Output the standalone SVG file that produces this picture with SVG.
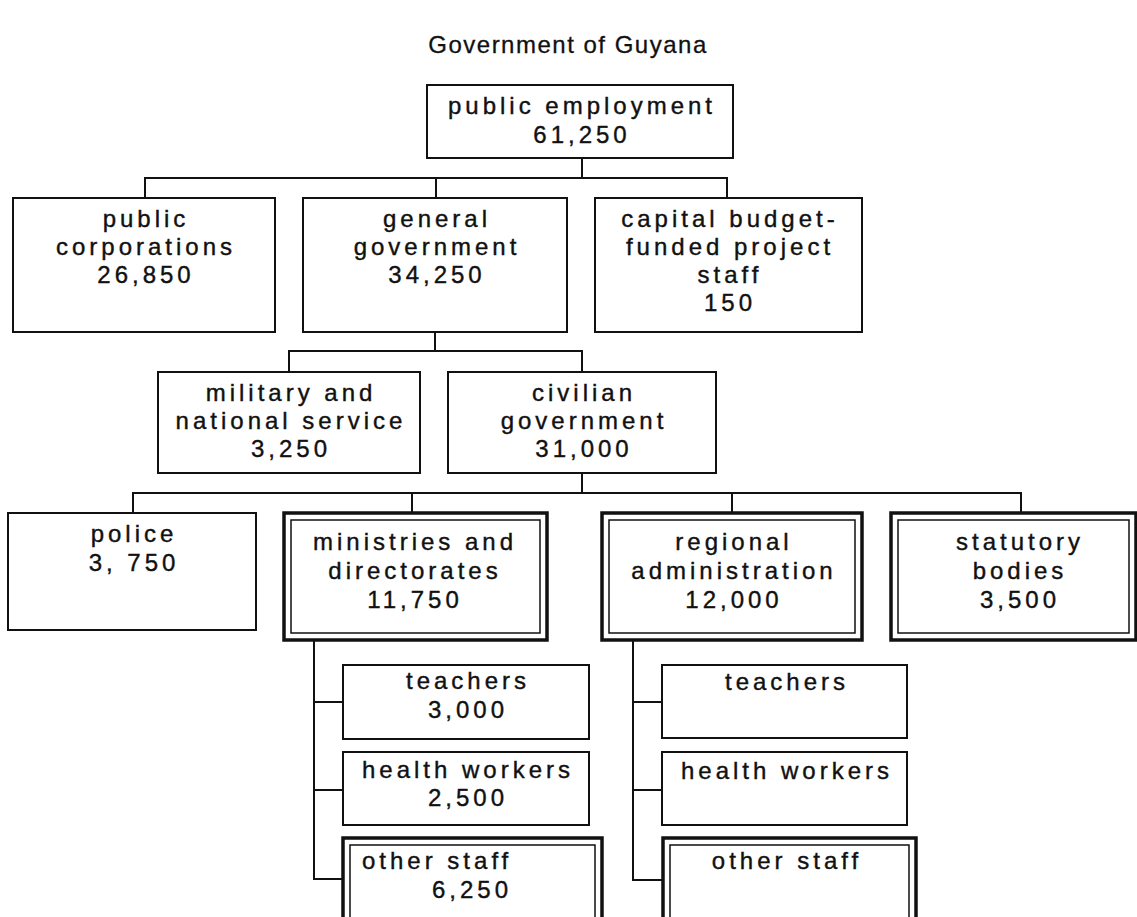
<svg xmlns="http://www.w3.org/2000/svg" width="1137" height="917" viewBox="0 0 1137 917">
<style>
.box{fill:#fff;stroke:#111;stroke-width:2}
.dout{fill:#fff;stroke:#111;stroke-width:3.5}
.din{fill:none;stroke:#111;stroke-width:1.5}
.t{font-family:"Liberation Sans",Arial,Helvetica,sans-serif;font-size:24px;letter-spacing:4px;fill:#111;stroke:#111;stroke-width:0.4;text-anchor:middle}
.ts{text-anchor:start}
.title{font-family:"Liberation Sans",Arial,Helvetica,sans-serif;font-size:24px;letter-spacing:1.5px;fill:#111;stroke:#111;stroke-width:0.3;text-anchor:middle}
.c{fill:none;stroke:#111;stroke-width:2}
</style>
<rect width="1137" height="917" fill="#fff"/>
<text class="title" x="568" y="53">Government of Guyana</text>
<g id="connectors">
<path class="c" d="M582 158V178 M145 198V178H727V198 M436 178V198"/>
<path class="c" d="M435 332V351 M289 372V351H582V372"/>
<path class="c" d="M582 473V493 M133 513V493H1021V513 M412 493V513 M732 493V513"/>
<path class="c" d="M314 640V879H343 M314 702H343 M314 790H343"/>
<path class="c" d="M633 640V880H663 M633 702H662 M633 790H662"/>
</g>
<g id="public-employment">
<rect class="box" x="427" y="85" width="306" height="73"/>
<text class="t" x="582" y="114">public employment</text>
<text class="t" x="582" y="143">61,250</text>
</g>
<g id="public-corporations">
<rect class="box" x="13" y="198" width="262" height="134"/>
<text class="t" x="146" y="227">public</text>
<text class="t" x="146" y="255">corporations</text>
<text class="t" x="146" y="283">26,850</text>
</g>
<g id="general-government">
<rect class="box" x="303" y="198" width="264" height="134"/>
<text class="t" x="437" y="227">general</text>
<text class="t" x="437" y="255">government</text>
<text class="t" x="437" y="283">34,250</text>
</g>
<g id="capital-budget">
<rect class="box" x="595" y="198" width="267" height="134"/>
<text class="t" x="730" y="227">capital budget-</text>
<text class="t" x="730" y="255">funded project</text>
<text class="t" x="730" y="283">staff</text>
<text class="t" x="730" y="311">150</text>
</g>
<g id="military">
<rect class="box" x="158" y="372" width="262" height="101"/>
<text class="t" x="291" y="401">military and</text>
<text class="t" x="291" y="429">national service</text>
<text class="t" x="291" y="457">3,250</text>
</g>
<g id="civilian">
<rect class="box" x="448" y="372" width="268" height="101"/>
<text class="t" x="584" y="401">civilian</text>
<text class="t" x="584" y="429">government</text>
<text class="t" x="584" y="457">31,000</text>
</g>
<g id="police">
<rect class="box" x="8" y="513" width="248" height="117"/>
<text class="t" x="134" y="542">police</text>
<text class="t" x="134" y="571">3, 750</text>
</g>
<g id="ministries">
<rect class="dout" x="284" y="513" width="263" height="127"/>
<rect class="din" x="291" y="520" width="249" height="113"/>
<text class="t" x="415" y="550">ministries and</text>
<text class="t" x="415" y="579">directorates</text>
<text class="t" x="415" y="608">11,750</text>
</g>
<g id="regional">
<rect class="dout" x="602" y="513" width="260" height="127"/>
<rect class="din" x="609" y="520" width="246" height="113"/>
<text class="t" x="734" y="550">regional</text>
<text class="t" x="734" y="579">administration</text>
<text class="t" x="734" y="608">12,000</text>
</g>
<g id="statutory">
<rect class="dout" x="891" y="513" width="245" height="127"/>
<rect class="din" x="898" y="520" width="231" height="113"/>
<text class="t" x="1020" y="550">statutory</text>
<text class="t" x="1020" y="579">bodies</text>
<text class="t" x="1020" y="608">3,500</text>
</g>
<g id="teachers-m">
<rect class="box" x="343" y="665" width="246" height="74"/>
<text class="t" x="468" y="689">teachers</text>
<text class="t" x="468" y="718">3,000</text>
</g>
<g id="health-m">
<rect class="box" x="343" y="752" width="246" height="73"/>
<text class="t" x="468" y="778">health workers</text>
<text class="t" x="468" y="806">2,500</text>
</g>
<g id="other-m">
<rect class="dout" x="343" y="838" width="259" height="100"/>
<rect class="din" x="350" y="845" width="245" height="90"/>
<text class="t ts" x="362" y="869">other staff</text>
<text class="t ts" x="432" y="898">6,250</text>
</g>
<g id="teachers-r">
<rect class="box" x="662" y="665" width="245" height="73"/>
<text class="t" x="787" y="690">teachers</text>
</g>
<g id="health-r">
<rect class="box" x="662" y="752" width="245" height="73"/>
<text class="t" x="787" y="779">health workers</text>
</g>
<g id="other-r">
<rect class="dout" x="663" y="838" width="253" height="100"/>
<rect class="din" x="670" y="845" width="239" height="90"/>
<text class="t" x="787" y="869">other staff</text>
</g>
</svg>
